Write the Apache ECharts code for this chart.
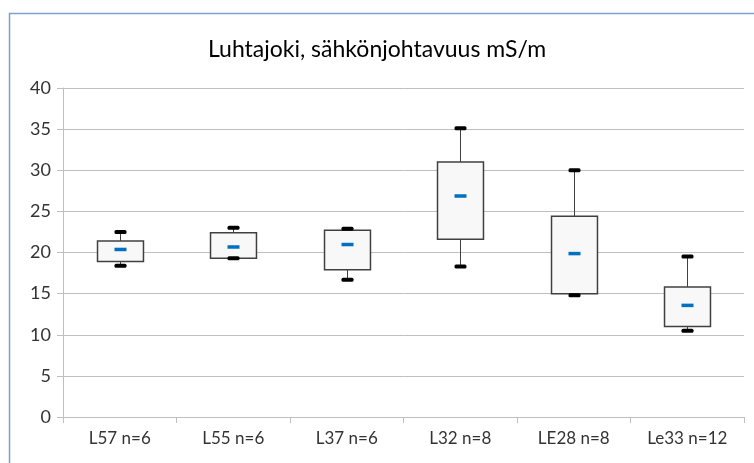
<!DOCTYPE html>
<html>
<head>
<meta charset="utf-8">
<script src="https://cdn.jsdelivr.net/npm/echarts@6/dist/echarts.min.js"></script>
<style>
  html, body { margin: 0; padding: 0; background: #fff; }
  #chart { width: 754px; height: 463px; }
</style>
</head>
<body>
<div id="chart"></div>
<script>
// sites and box statistics
var categories = ['L57 n=6', 'L55 n=6', 'L37 n=6', 'L32 n=8', 'LE28 n=8', 'Le33 n=12'];
var lows    = [18.4, 19.3, 16.7, 18.3, 14.8, 10.5];
var q1s     = [18.9, 19.3, 17.9, 21.6, 15.0, 11.0];
var medians = [20.4, 20.7, 21.0, 26.9, 19.9, 13.6];
var q3s     = [21.4, 22.4, 22.7, 31.0, 24.4, 15.8];
var highs   = [22.5, 23.0, 22.9, 35.1, 30.0, 19.5];
var yTicks  = [0, 5, 10, 15, 20, 25, 30, 35, 40];

var boxData = categories.map(function (c, i) {
    return [i, lows[i], q1s[i], medians[i], q3s[i], highs[i]];
});

var myChart = echarts.init(document.getElementById('chart'));

function renderBox(params, api) {
    var i = api.value(0);
    var pLow = api.coord([i, api.value(1)]);
    var pQ1 = api.coord([i, api.value(2)]);
    var pMed = api.coord([i, api.value(3)]);
    var pQ3 = api.coord([i, api.value(4)]);
    var pHigh = api.coord([i, api.value(5)]);
    var bw = api.size([1, 0])[0] * 0.405;
    var cx = Math.round(pQ1[0]) + 0.5;
    return {
        type: 'group',
        children: [
            { type: 'line', shape: { x1: cx, y1: pHigh[1], x2: cx, y2: pLow[1] },
              style: { stroke: '#404040', lineWidth: 1 } },
            { type: 'rect', shape: { x: cx - bw / 2, y: pQ3[1], width: bw, height: pQ1[1] - pQ3[1] },
              style: { fill: '#F8F8F8', stroke: '#404040', lineWidth: 1.5 } },
            { type: 'rect', shape: { x: cx - 6, y: pHigh[1] - 2, width: 12, height: 4, r: 1.5 },
              style: { fill: '#000' } },
            { type: 'rect', shape: { x: cx - 6, y: pLow[1] - 2, width: 12, height: 4, r: 1.5 },
              style: { fill: '#000' } },
            { type: 'rect', shape: { x: cx - 6, y: pMed[1] - 1.5, width: 12, height: 3.5 },
              style: { fill: '#0070C0' } }
        ]
    };
}

var option = {
    animation: false,
    textStyle: { fontFamily: 'Lato' },
    graphic: [{
        type: 'rect',
        shape: { x: 9.5, y: 13.5, width: 800, height: 500 },
        style: { fill: 'none', stroke: '#7F9FCF', lineWidth: 1.5 },
        z: -1
    }],
    title: {
        text: 'Luhtajoki, sähkönjohtavuus mS/m',
        left: 'center',
        top: 33,
        textStyle: { fontFamily: 'Lato', fontSize: 23, fontWeight: 'normal', color: '#000' }
    },
    grid: { left: 63, right: 10, top: 88, bottom: 46 },
    xAxis: {
        type: 'category',
        data: categories,
        boundaryGap: true,
        axisLine: { lineStyle: { color: '#BFBFBF', width: 1 } },
        axisTick: { show: true, length: 6, lineStyle: { color: '#BFBFBF' } },
        axisLabel: { color: '#333', fontSize: 17, margin: 13, interval: 0 },
        splitLine: { show: false }
    },
    yAxis: {
        type: 'value',
        min: yTicks[0],
        max: yTicks[yTicks.length - 1],
        interval: 5,
        axisLine: { show: true, lineStyle: { color: '#BFBFBF', width: 1 } },
        axisTick: { show: true, length: 6, lineStyle: { color: '#BFBFBF' } },
        axisLabel: { color: '#333', fontSize: 18, margin: 12 },
        splitLine: { lineStyle: { color: '#BFBFBF', width: 1 } }
    },
    series: [{
        type: 'custom',
        renderItem: renderBox,
        encode: { x: 0, y: [1, 2, 3, 4, 5] },
        data: boxData
    }]
};

myChart.setOption(option);
</script>
</body>
</html>
